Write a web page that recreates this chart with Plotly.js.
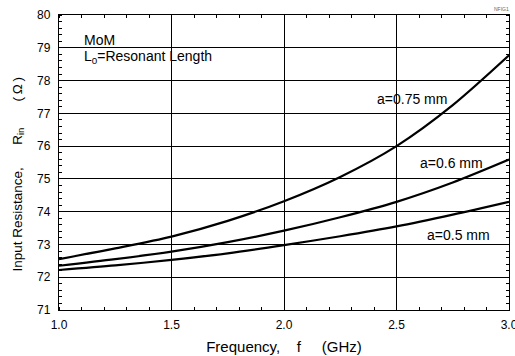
<!DOCTYPE html>
<html>
<head>
<meta charset="utf-8">
<script src="https://cdn.plot.ly/plotly-3.0.1.min.js"></script>
<style>html,body{margin:0;padding:0;background:#fff;}#chart{width:515px;height:356px;}</style>
</head>
<body>
<div id="chart"></div>
<script>
// Frequency (GHz)
const freq = [1.0, 1.25, 1.5, 1.75, 2.0, 2.25, 2.5, 2.75, 3.0];
// Input resistance (ohm) for each wire radius
const rin_075 = [72.55, 72.88, 73.24, 73.72, 74.32, 75.06, 76.00, 77.25, 78.77];
const rin_060 = [72.35, 72.55, 72.78, 73.07, 73.42, 73.83, 74.30, 74.89, 75.59];
const rin_050 = [72.22, 72.36, 72.53, 72.73, 72.98, 73.25, 73.55, 73.91, 74.30];
const seriesNames = ["a=0.75 mm", "a=0.6 mm", "a=0.5 mm"];
const xTicks = [1.0, 1.5, 2.0, 2.5, 3.0];
const xTickText = ["1.0", "1.5", "2.0", "2.5", "3.0"];
const yTicks = [71, 72, 73, 74, 75, 76, 77, 78, 79, 80];

const FONT = "Liberation Sans, Arial, sans-serif";
const NB = n => "\u00a0".repeat(n);
const line = {color: "#000", width: 2.2, shape: "spline", smoothing: 0.8};
const traces = [rin_075, rin_060, rin_050].map((y, i) => ({
  x: freq, y: y, type: "scatter", mode: "lines", name: seriesNames[i],
  line: line, hoverinfo: "skip"
}));

const annFont = {family: FONT, size: 14, color: "#000"};
const layout = {
  width: 515, height: 356,
  margin: {l: 59, r: 6, t: 15, b: 46},
  paper_bgcolor: "#fff", plot_bgcolor: "#fff",
  showlegend: false,
  font: {family: FONT, color: "#000", size: 12},
  xaxis: {
    range: [1.0, 3.0], tickvals: xTicks, ticktext: xTickText,
    showgrid: true, gridcolor: "#000", gridwidth: 1,
    zeroline: false, showline: true, linecolor: "#000", linewidth: 1.2, mirror: "allticks",
    ticks: "", ticklabelstandoff: 3, ticklabeloverflow: "allow",
    minor: {dtick: 0.1, ticks: "inside", ticklen: 3, tickwidth: 1, tickcolor: "#000", showgrid: false},
    tickfont: {family: FONT, size: 12, color: "#000"},
    title: {text: "Frequency," + NB(4) + "f" + NB(5) + "(GHz)", font: {family: FONT, size: 15, color: "#000"}, standoff: 11},
    fixedrange: true
  },
  yaxis: {
    range: [71, 80], tickvals: yTicks,
    showgrid: true, gridcolor: "#000", gridwidth: 1,
    zeroline: false, showline: true, linecolor: "#000", linewidth: 1.2, mirror: "allticks",
    ticks: "", ticklabelstandoff: 5,
    minor: {dtick: 0.2, ticks: "inside", ticklen: 3, tickwidth: 1, tickcolor: "#000", showgrid: false},
    tickfont: {family: FONT, size: 12, color: "#000"},
    fixedrange: true
  },
  annotations: [
    {xref: "paper", yref: "paper", x: -0.092, xanchor: "center", y: 0.461, yanchor: "middle", textangle: -90, showarrow: false,
     text: "Input Resistance," + NB(6) + "R<sub>in</sub>" + NB(7) + "(\u2009\u03a9\u2009)", font: {family: FONT, size: 13.5, color: "#000"}},
    {xref: "x", yref: "y", x: 1.102, y: 79.23, xanchor: "left", yanchor: "middle", showarrow: false,
     text: "MoM", font: annFont},
    {xref: "x", yref: "y", x: 1.102, y: 78.71, xanchor: "left", yanchor: "middle", showarrow: false,
     text: "L<sub>0</sub>=Resonant Length", font: annFont},
    {xref: "x", yref: "y", x: 2.568, y: 77.44, showarrow: false,
     text: seriesNames[0], font: annFont},
    {xref: "x", yref: "y", x: 2.745, y: 75.49, showarrow: false,
     text: seriesNames[1], font: annFont},
    {xref: "x", yref: "y", x: 2.776, y: 73.29, showarrow: false,
     text: seriesNames[2], font: annFont},
    {xref: "paper", yref: "paper", x: 0.983, y: 1.005, xanchor: "center", yanchor: "bottom", showarrow: false,
     text: "NFIG1", font: {family: FONT, size: 5, color: "#666"}}
  ]
};

Plotly.newPlot("chart", traces, layout, {staticPlot: true, displayModeBar: false});
</script>
</body>
</html>
